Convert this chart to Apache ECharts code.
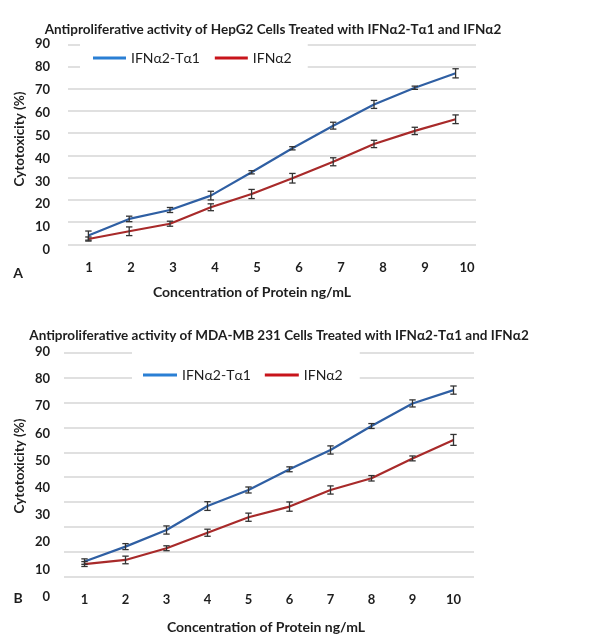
<!DOCTYPE html>
<html>
<head>
<meta charset="utf-8">
<script src="https://cdn.jsdelivr.net/npm/echarts@6/dist/echarts.min.js"></script>
<style>html,body{margin:0;padding:0;background:#fff}#c{width:597px;height:635px}</style>
</head>
<body>
<div id="c"></div>
<script>
const categories = ['1','2','3','4','5','6','7','8','9','10'];
const seriesNames = ['IFNα2-Tα1', 'IFNα2'];
// Panel A: HepG2
const hepg2Fusion    = [6.3, 13.6, 17.5, 23.8, 34.0, 44.5, 54.4, 63.7, 71.0, 77.3];
const hepg2FusionErr = [2.0, 1.2, 1.1, 1.9, 0.7, 0.7, 1.5, 1.75, 0.7, 2.0];
const hepg2Ifn       = [4.8, 8.2, 11.5, 18.7, 24.5, 31.4, 38.6, 46.4, 52.1, 57.2];
const hepg2IfnErr    = [0.9, 1.9, 1.1, 1.5, 2.0, 2.1, 1.75, 1.6, 1.6, 1.9];
// Panel B: MDA-MB 231
const mdaFusion      = [12.9, 18.4, 24.5, 33.3, 39.2, 46.8, 53.9, 62.7, 71.0, 75.9];
const mdaFusionErr   = [1.0, 1.1, 1.5, 1.6, 1.1, 0.9, 1.5, 0.9, 1.3, 1.5];
const mdaIfn         = [12.0, 13.5, 17.8, 23.5, 29.2, 33.1, 39.2, 43.5, 50.8, 57.6];
const mdaIfnErr      = [0.9, 1.4, 0.9, 1.3, 1.5, 1.7, 1.5, 1.0, 0.9, 2.0];

const FONT = 'Lato, "Open Sans", sans-serif';
const TXT = '#1e1e1e';
const BLUE = '#2f5fa3', RED = '#a82a2a';
const LEG_BLUE = '#2a7fd4', LEG_RED = '#c8141b';
const GRID = '#d6d6d6';

function errData(vals, errs){ return vals.map((v,i)=>[i, v-errs[i], v+errs[i]]); }
function errRender(params, api){
  const x = api.value(0);
  const a = api.coord([x, api.value(1)]);
  const b = api.coord([x, api.value(2)]);
  const w = 3.2;
  const st = {stroke:'#333', lineWidth:1.3};
  return {type:'group', children:[
    {type:'line', shape:{x1:a[0], y1:a[1], x2:b[0], y2:b[1]}, style:st},
    {type:'line', shape:{x1:a[0]-w, y1:a[1], x2:a[0]+w, y2:a[1]}, style:st},
    {type:'line', shape:{x1:b[0]-w, y1:b[1], x2:b[0]+w, y2:b[1]}, style:st}
  ]};
}

const hidden = {show:false};
function catAxis(gi, showLabels, margin){
  return {type:'category', gridIndex:gi, data:categories, boundaryGap:true,
    axisLine:{show:false}, axisTick:{show:false}, splitLine:{show:false},
    axisLabel: showLabels ? {show:true, margin:margin, color:TXT, fontFamily:FONT, fontWeight:'bold', fontSize:13} : {show:false}};
}
function gridAxis(gi){
  return {type:'value', gridIndex:gi, min:0, max:90, interval:10,
    axisLine:{show:false}, axisTick:{show:false}, axisLabel:{show:false},
    splitLine:{show:true, lineStyle:{color:GRID, width:1.6}}};
}
function labelAxis(gi, margin){
  return {type:'value', gridIndex:gi, min:0, max:90, interval:10,
    axisLine:{show:false}, axisTick:{show:false}, splitLine:{show:false},
    axisLabel:{show:true, margin:margin, color:TXT, fontFamily:FONT, fontWeight:'bold', fontSize:13}};
}
function lineSeries(name, xi, yi, data, color){
  return {type:'line', name:name, xAxisIndex:xi, yAxisIndex:yi, data:data, symbol:'none',
    lineStyle:{color:color, width:2.2}, itemStyle:{color:color}, z:3};
}
function errSeries(xi, yi, vals, errs){
  return {type:'custom', xAxisIndex:xi, yAxisIndex:yi, data:errData(vals, errs), renderItem:errRender, z:4, silent:true};
}

const option = {
  backgroundColor:'#fff',
  animation:false,
  title:[
    {text:'Antiproliferative activity of HepG2 Cells Treated with IFNα2-Tα1 and IFNα2', left:268, textAlign:'center', top:18,
     textStyle:{fontFamily:FONT, fontWeight:'bold', fontSize:13.5, color:TXT}},
    {text:'Antiproliferative activity of MDA-MB 231 Cells Treated with IFNα2-Tα1 and IFNα2', left:274, textAlign:'center', top:324,
     textStyle:{fontFamily:FONT, fontWeight:'bold', fontSize:13.5, color:TXT}}
  ],
  legend:[
    {left:80, top:39, padding:[12,16,12,13], backgroundColor:'#fff', icon:'rect', itemWidth:33, itemHeight:3, itemGap:15,
     textStyle:{fontFamily:FONT, fontSize:14, color:TXT},
     data:[{name:seriesNames[0], itemStyle:{color:LEG_BLUE}}, {name:seriesNames[1], itemStyle:{color:LEG_RED}}]},
    {left:132, top:348, padding:[20,17,10,11], backgroundColor:'#fff', icon:'rect', itemWidth:34, itemHeight:3, itemGap:14,
     textStyle:{fontFamily:FONT, fontSize:14, color:TXT},
     data:[{name:seriesNames[0], itemStyle:{color:LEG_BLUE}}, {name:seriesNames[1], itemStyle:{color:LEG_RED}}]}
  ],
  grid:[
    {left:68, top:44.3, width:408, height:200},      // 0 A gridlines
    {left:68, top:44.3, width:408, height:205.7},    // 1 A data + y labels
    {left:68, top:44.3, width:420, height:200},      // 2 A x labels
    {left:64, top:352.7, width:410, height:224},     // 3 B gridlines + x labels
    {left:64, top:351.7, width:410, height:245}      // 4 B data + y labels
  ],
  xAxis:[catAxis(0,false), catAxis(1,false), catAxis(2,true,17), catAxis(3,true,17), catAxis(4,false)],
  yAxis:[gridAxis(0), labelAxis(1,18), {type:'value', gridIndex:2, min:0, max:90, show:false},
         gridAxis(3), labelAxis(4,14)],
  graphic:[
    {type:'text', x:20, y:139, rotation:Math.PI/2, style:{text:'Cytotoxicity (%)', fill:TXT, font:'bold 13.5px '+FONT, align:'center', verticalAlign:'middle'}},
    {type:'text', x:20, y:466, rotation:Math.PI/2, style:{text:'Cytotoxicity (%)', fill:TXT, font:'bold 13.5px '+FONT, align:'center', verticalAlign:'middle'}},
    {type:'text', x:252, y:292, style:{text:'Concentration of Protein ng/mL', fill:TXT, font:'bold 14px '+FONT, align:'center', verticalAlign:'middle'}},
    {type:'text', x:266, y:627, style:{text:'Concentration of Protein ng/mL', fill:TXT, font:'bold 14px '+FONT, align:'center', verticalAlign:'middle'}},
    {type:'text', x:18, y:273, style:{text:'A', fill:TXT, font:'bold 14px '+FONT, align:'center', verticalAlign:'middle'}},
    {type:'text', x:18, y:598, style:{text:'B', fill:TXT, font:'bold 14px '+FONT, align:'center', verticalAlign:'middle'}}
  ],
  series:[
    lineSeries(seriesNames[0], 1, 1, hepg2Fusion, BLUE),
    lineSeries(seriesNames[1], 1, 1, hepg2Ifn, RED),
    errSeries(1, 1, hepg2Fusion, hepg2FusionErr),
    errSeries(1, 1, hepg2Ifn, hepg2IfnErr),
    lineSeries(seriesNames[0], 4, 4, mdaFusion, BLUE),
    lineSeries(seriesNames[1], 4, 4, mdaIfn, RED),
    errSeries(4, 4, mdaFusion, mdaFusionErr),
    errSeries(4, 4, mdaIfn, mdaIfnErr)
  ]
};
const chart = echarts.init(document.getElementById('c'), null, {renderer:'canvas'});
chart.setOption(option);
</script>
</body>
</html>
